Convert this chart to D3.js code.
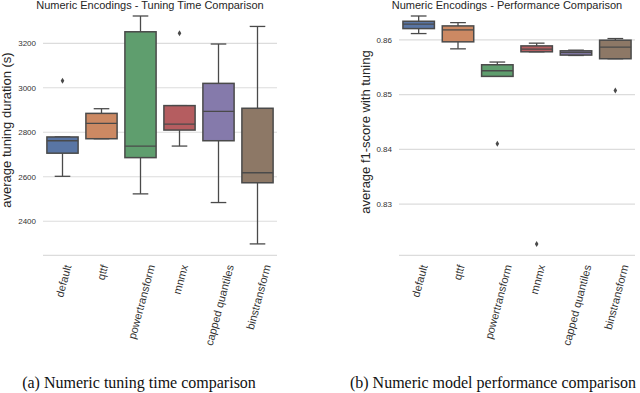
<!DOCTYPE html>
<html><head><meta charset="utf-8">
<script src="https://cdn.jsdelivr.net/npm/d3@7"></script>
<style>html,body{margin:0;padding:0;background:#fff;}svg{display:block;}</style>
</head><body>
<svg id="chart" width="640" height="393"></svg>
<script>
const categories = ["default","qttf","powertransform","mnmx","capped quantiles","binstransform"];
const colors = ["#5975a4","#cc8963","#5f9e6e","#b55d60","#857aab","#8d7866"];

// Tuning time panel
const timeWhiskerLow  = [2602, 2771, 2523, 2738, 2484, 2298];
const timeQ1          = [2706, 2771, 2686, 2810, 2762, 2573];
const timeMedian      = [2762, 2840, 2738, 2837, 2894, 2618];
const timeQ3          = [2779, 2885, 3252, 2920, 3020, 2908];
const timeWhiskerHigh = [2779, 2906, 3323, 2920, 3197, 3276];
const timeOutliers    = [[3032], [], [], [3245], [], []];
const timeTicks       = [2400, 2600, 2800, 3000, 3200];

// Performance panel
const perfWhiskerLow  = [0.86115, 0.85836, 0.85333, 0.85782, 0.85715, 0.85655];
const perfQ1          = [0.86206, 0.85964, 0.85333, 0.85782, 0.85722, 0.85655];
const perfMedian      = [0.86286, 0.86182, 0.85436, 0.85830, 0.85770, 0.85867];
const perfQ3          = [0.86340, 0.86255, 0.85545, 0.85890, 0.85800, 0.85994];
const perfWhiskerHigh = [0.86436, 0.86315, 0.85595, 0.85940, 0.85812, 0.86024];
const perfOutliers    = [[], [], [0.84104], [0.82273], [], [0.85073]];
const perfTicks       = [0.83, 0.84, 0.85, 0.86];

const svg = d3.select("#chart");
const LINE = "#4a4a4a";
const GRID = "#dcdcdc";

function panel(opt){
  const g = svg.append("g");
  const rows = categories.map((c,i)=>({c, col:colors[i], lo:opt.lo[i], q1:opt.q1[i], med:opt.med[i], q3:opt.q3[i], hi:opt.hi[i], out:opt.out[i]}));
  const all = rows.flatMap(r=>[r.lo,r.hi,...r.out]);
  const mn = d3.min(all), mx = d3.max(all), pad = (mx-mn)*0.05;
  const y = d3.scaleLinear().domain([mn-pad, mx+pad]).range([255.3, 4.6]);
  const x = d3.scaleBand().domain(categories).range([opt.x0, opt.x1]).padding(0);
  const bw = x.bandwidth()*0.8;

  // grid
  g.selectAll(".grid").data(opt.ticks).join("line")
    .attr("x1", opt.x0).attr("x2", opt.x1)
    .attr("y1", d=>y(d)).attr("y2", d=>y(d))
    .attr("stroke", GRID).attr("stroke-width", 1.1);
  // bottom spine
  g.append("line").attr("x1", opt.x0).attr("x2", opt.x1)
    .attr("y1", y.range()[0]).attr("y2", y.range()[0])
    .attr("stroke", GRID).attr("stroke-width", 1.3);

  // y tick labels
  g.selectAll(".yt").data(opt.ticks).join("text")
    .attr("x", opt.x0-7).attr("y", d=>y(d)).attr("dy","0.35em")
    .attr("text-anchor","end").attr("font-family","Liberation Sans, Arial, sans-serif")
    .attr("font-size", 8).attr("fill", "#333").text(opt.fmt);

  const b = g.selectAll(".box").data(rows).join("g");
  const cx = d => x(d.c) + x.bandwidth()/2;
  // whiskers
  b.append("line").attr("x1",cx).attr("x2",cx).attr("y1",d=>y(d.hi)).attr("y2",d=>y(d.q3))
    .attr("stroke",LINE).attr("stroke-width",1.3);
  b.append("line").attr("x1",cx).attr("x2",cx).attr("y1",d=>y(d.q1)).attr("y2",d=>y(d.lo))
    .attr("stroke",LINE).attr("stroke-width",1.3);
  // caps
  b.append("line").attr("x1",d=>cx(d)-bw/4).attr("x2",d=>cx(d)+bw/4).attr("y1",d=>y(d.hi)).attr("y2",d=>y(d.hi))
    .attr("stroke",LINE).attr("stroke-width",1.3);
  b.append("line").attr("x1",d=>cx(d)-bw/4).attr("x2",d=>cx(d)+bw/4).attr("y1",d=>y(d.lo)).attr("y2",d=>y(d.lo))
    .attr("stroke",LINE).attr("stroke-width",1.3);
  // box
  b.append("rect").attr("x",d=>cx(d)-bw/2).attr("width",bw)
    .attr("y",d=>y(d.q3)).attr("height",d=>Math.max(0.5,y(d.q1)-y(d.q3)))
    .attr("fill",d=>d.col).attr("stroke",LINE).attr("stroke-width",1.5);
  // median
  b.append("line").attr("x1",d=>cx(d)-bw/2).attr("x2",d=>cx(d)+bw/2).attr("y1",d=>y(d.med)).attr("y2",d=>y(d.med))
    .attr("stroke",LINE).attr("stroke-width",1.3);
  // outliers (thin diamonds)
  b.each(function(d){
    d3.select(this).selectAll("path.o").data(d.out).join("path")
      .attr("d", v=>{const px=cx(d), py=y(v); return `M${px},${py-3}L${px+1.8},${py}L${px},${py+3}L${px-1.8},${py}Z`;})
      .attr("fill",LINE);
  });

  // x tick labels rotated
  const cos75 = Math.cos(75*Math.PI/180);
  g.selectAll(".xt").data(categories).join("text")
    .attr("font-family","Liberation Sans, Arial, sans-serif").attr("font-size",11)
    .attr("fill","#333").attr("text-anchor","end").attr("dy","0.35em")
    .text(d=>d)
    .each(function(d){
      const L = this.getComputedTextLength();
      const px = x(d)+x.bandwidth()/2 + L*cos75/2 + 1;
      const py = 265;
      d3.select(this).attr("transform",`translate(${px},${py}) rotate(-75)`);
    });

  // title
  g.append("text").attr("x",opt.titleX).attr("y",9).attr("text-anchor","middle")
    .attr("font-family","Liberation Sans, Arial, sans-serif").attr("font-size",11)
    .attr("fill","#262626").text(opt.title);
  // y label
  g.append("text").attr("transform",`translate(${opt.ylabX},${opt.ylabY}) rotate(-90)`)
    .attr("text-anchor","middle").attr("dy","0.35em")
    .attr("font-family","Liberation Sans, Arial, sans-serif").attr("font-size",13)
    .attr("fill","#262626").text(opt.ylabel);
  // caption
  g.append("text").attr("x",opt.capX).attr("y",388).attr("text-anchor","middle")
    .attr("font-family","Liberation Serif, Times New Roman, serif").attr("font-size",16)
    .attr("fill","#111").text(opt.caption);
}

panel({lo:timeWhiskerLow,q1:timeQ1,med:timeMedian,q3:timeQ3,hi:timeWhiskerHigh,out:timeOutliers,
  ticks:timeTicks, fmt:d=>d3.format("d")(d), x0:43, x1:277,
  title:"Numeric Encodings - Tuning Time Comparison", titleX:150,
  ylabel:"average tuning duration (s)", ylabX:6, ylabY:130,
  caption:"(a) Numeric tuning time comparison", capX:139});

panel({lo:perfWhiskerLow,q1:perfQ1,med:perfMedian,q3:perfQ3,hi:perfWhiskerHigh,out:perfOutliers,
  ticks:perfTicks, fmt:d=>d3.format(".2f")(d), x0:399, x1:635,
  title:"Numeric Encodings - Performance Comparison", titleX:507,
  ylabel:"average f1-score with tuning", ylabX:365, ylabY:132,
  caption:"(b) Numeric model performance comparison", capX:493});
</script>
</body></html>
